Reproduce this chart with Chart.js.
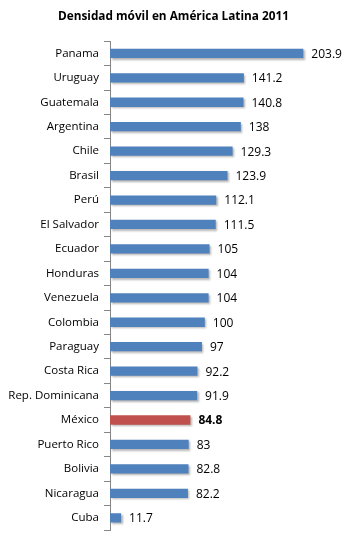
<!DOCTYPE html>
<html>
<head>
<meta charset="utf-8">
<script src="https://cdn.jsdelivr.net/npm/chart.js@4/dist/chart.umd.min.js"></script>
<style>
  html, body { margin: 0; padding: 0; background: #fff; }
  #wrap { width: 360px; height: 542px; }
</style>
</head>
<body>
<div id="wrap"><canvas id="mycanvas" width="360" height="542"></canvas></div>
<script>
var paises = ['Panama', 'Uruguay', 'Guatemala', 'Argentina', 'Chile', 'Brasil', 'Perú',
    'El Salvador', 'Ecuador', 'Honduras', 'Venezuela', 'Colombia', 'Paraguay', 'Costa Rica',
    'Rep. Dominicana', 'México', 'Puerto Rico', 'Bolivia', 'Nicaragua', 'Cuba'];
var densidad = [203.9, 141.2, 140.8, 138, 129.3, 123.9, 112.1, 111.5, 105, 104, 104, 100, 97,
    92.2, 91.9, 84.8, 83, 82.8, 82.2, 11.7];
var destacado = 'México';

var colores = paises.map(function(p) { return p === destacado ? '#C0504D' : '#4F81BD'; });

// sombra de las barras
var sombra = {
    id: 'sombra',
    beforeDatasetsDraw: function(chart) {
        var ctx = chart.ctx;
        ctx.save();
        ctx.shadowColor = 'rgba(0,0,0,0.3)';
        ctx.shadowOffsetX = 1.5;
        ctx.shadowOffsetY = 1.5;
        ctx.shadowBlur = 2;
    },
    afterDatasetsDraw: function(chart) {
        chart.ctx.restore();
    }
};

// etiquetas con el valor al final de cada barra
var etiquetas = {
    id: 'etiquetas',
    afterDraw: function(chart) {
        var ctx = chart.ctx;
        var meta = chart.getDatasetMeta(0);
        ctx.save();
        ctx.textBaseline = 'middle';
        ctx.textAlign = 'left';
        ctx.fillStyle = '#000';
        meta.data.forEach(function(bar, i) {
            var bold = paises[i] === destacado;
            ctx.font = (bold ? 'bold ' : '') + '12px "Open Sans", sans-serif';
            ctx.fillText(String(densidad[i]), bar.x + 8, bar.y + 1);
        });
        ctx.restore();
    }
};

var chartdata = {
    labels: paises,
    datasets: [{
        label: 'Densidad móvil',
        backgroundColor: colores,
        borderWidth: 0,
        data: densidad,
        barPercentage: 0.38,
        categoryPercentage: 1
    }]
};

var ctx = document.getElementById('mycanvas');

var barGraph = new Chart(ctx, {
    type: 'bar',
    data: chartdata,
    plugins: [sombra, etiquetas],
    options: {
        indexAxis: 'y',
        responsive: false,
        animation: false,
        layout: { padding: { left: 0, right: 13, top: 0, bottom: 12 } },
        plugins: {
            legend: { display: false },
            tooltip: { enabled: false },
            title: {
                display: true,
                text: 'Densidad móvil en América Latina 2011',
                color: '#000',
                font: { family: '"Open Sans", sans-serif', size: 11.8, weight: 'bold' },
                padding: { top: 10, bottom: 17 }
            }
        },
        scales: {
            x: {
                display: false,
                min: 0,
                max: 250
            },
            y: {
                afterFit: function(scale) { scale.width = 110; },
                border: { display: true, color: '#868686', width: 1 },
                grid: {
                    offset: true,
                    drawOnChartArea: false,
                    tickLength: 6,
                    color: '#868686'
                },
                ticks: {
                    color: '#000',
                    padding: 5,
                    font: { family: '"Open Sans", sans-serif', size: 11.5 }
                }
            }
        }
    }
});
</script>
</body>
</html>
